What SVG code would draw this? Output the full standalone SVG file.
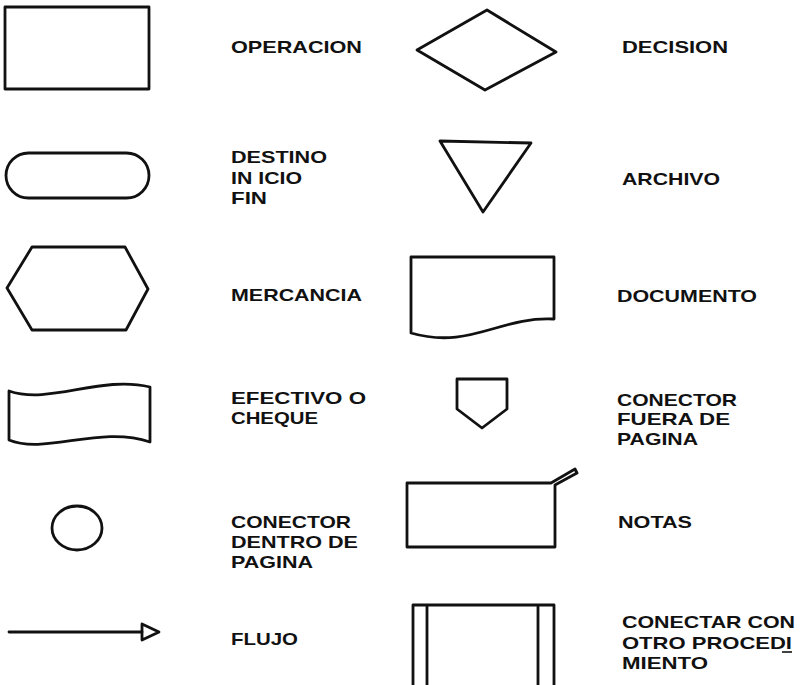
<svg xmlns="http://www.w3.org/2000/svg" width="805" height="685" viewBox="0 0 805 685">
<style>
.s{fill:none;stroke:#111;stroke-width:2.8;stroke-linejoin:round;stroke-linecap:round}
.t{font-family:"Liberation Sans",Arial,sans-serif;font-weight:bold;font-size:17px;fill:#111}
</style>
<rect width="805" height="685" fill="#fff"/>
<g id="operacion">
<rect class="s" x="5" y="7" width="144" height="82"/>
<text class="t" x="231" y="53" textLength="131" lengthAdjust="spacingAndGlyphs">OPERACION</text>
</g>
<g id="decision">
<polygon class="s" points="487,10 556,52 485,90 417,50"/>
<text class="t" x="622" y="53" textLength="106" lengthAdjust="spacingAndGlyphs">DECISION</text>
</g>
<g id="destino">
<rect class="s" x="6" y="153" width="143" height="45" rx="22.5" ry="22.5"/>
<text class="t" x="231" y="163" textLength="96" lengthAdjust="spacingAndGlyphs">DESTINO</text>
<text class="t" x="231" y="184" textLength="71" lengthAdjust="spacingAndGlyphs">IN ICIO</text>
<text class="t" x="231" y="204" textLength="36" lengthAdjust="spacingAndGlyphs">FIN</text>
</g>
<g id="archivo">
<polygon class="s" points="440,141 531,143 483,212"/>
<text class="t" x="622" y="185" textLength="98" lengthAdjust="spacingAndGlyphs">ARCHIVO</text>
</g>
<g id="mercancia">
<polygon class="s" points="7,288 32,247 125,247 148,289 126,330 32,330"/>
<text class="t" x="231" y="301" textLength="131" lengthAdjust="spacingAndGlyphs">MERCANCIA</text>
</g>
<g id="documento">
<path class="s" d="M411,257 L554,257 L554,319 C500,316 470,350 411,333 Z"/>
<text class="t" x="617" y="302" textLength="140" lengthAdjust="spacingAndGlyphs">DOCUMENTO</text>
</g>
<g id="efectivo">
<path class="s" d="M9,391 C50,405 100,375 150,387 L150,442 C100,425 45,455 9,440 Z"/>
<text class="t" x="231" y="404" textLength="135" lengthAdjust="spacingAndGlyphs">EFECTIVO O</text>
<text class="t" x="231" y="424" textLength="87" lengthAdjust="spacingAndGlyphs">CHEQUE</text>
</g>
<g id="conector-fuera">
<polygon class="s" points="457,379 507,379 507,409 482,428 457,409"/>
<text class="t" x="617" y="406" textLength="120" lengthAdjust="spacingAndGlyphs">CONECTOR</text>
<text class="t" x="617" y="425" textLength="113" lengthAdjust="spacingAndGlyphs">FUERA DE</text>
<text class="t" x="617" y="445" textLength="81" lengthAdjust="spacingAndGlyphs">PAGINA</text>
</g>
<g id="conector-dentro">
<ellipse class="s" cx="77" cy="528" rx="25" ry="22"/>
<text class="t" x="231" y="528" textLength="120" lengthAdjust="spacingAndGlyphs">CONECTOR</text>
<text class="t" x="231" y="548" textLength="127" lengthAdjust="spacingAndGlyphs">DENTRO DE</text>
<text class="t" x="231" y="568" textLength="82" lengthAdjust="spacingAndGlyphs">PAGINA</text>
</g>
<g id="notas">
<path class="s" d="M551,483 L407,483 L407,547 L555,547 L555,485 L577,473 M551,483 L575,469 L577,473"/>
<text class="t" x="618" y="528" textLength="74" lengthAdjust="spacingAndGlyphs">NOTAS</text>
</g>
<g id="flujo">
<line class="s" x1="9" y1="632" x2="142" y2="632"/>
<polygon class="s" points="142,624 159,632 142,640"/>
<text class="t" x="231" y="645" textLength="67" lengthAdjust="spacingAndGlyphs">FLUJO</text>
</g>
<g id="procedimiento">
<path class="s" d="M413,686 L413,605 L554,605 L554,686 M427,605 L427,686 M538,605 L538,686"/>
<text class="t" x="622" y="628" textLength="173" lengthAdjust="spacingAndGlyphs">CONECTAR CON</text>
<text class="t" x="622" y="649" textLength="170" lengthAdjust="spacingAndGlyphs">OTRO PROCEDI</text>
<line x1="782" y1="652" x2="792" y2="652" stroke="#111" stroke-width="1.6"/>
<text class="t" x="622" y="669" textLength="86" lengthAdjust="spacingAndGlyphs">MIENTO</text>
</g>
<g id="connectors"/>
</svg>
